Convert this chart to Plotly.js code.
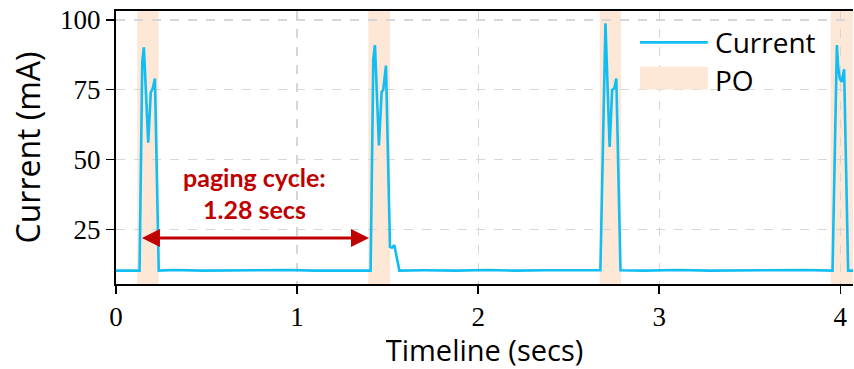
<!DOCTYPE html>
<html>
<head>
<meta charset="utf-8">
<script src="https://cdn.plot.ly/plotly-3.0.1.min.js"></script>
<style>html,body{margin:0;padding:0;background:#fff}#chart{width:854px;height:369px}</style>
</head>
<body>
<div id="chart"></div>
<script>
// Time (secs) and measured current (mA)
const timeSecs = [0, 0.06, 0.11, 0.130, 0.145, 0.154, 0.178, 0.192, 0.203, 0.215, 0.236,
  0.32, 0.48, 0.62, 0.80, 0.95, 1.10, 1.25, 1.406, 1.421, 1.430, 1.452, 1.467, 1.476, 1.491,
  1.513, 1.524, 1.537, 1.545, 1.565, 1.70, 1.88, 2.05, 2.20, 2.38, 2.55, 2.675, 2.703, 2.726,
  2.740, 2.752, 2.763, 2.786, 2.92, 3.10, 3.28, 3.45, 3.62, 3.80, 3.957, 3.981, 3.988, 3.997,
  4.007, 4.021, 4.043, 4.07];
const currentMA = [10.2, 10.3, 10.2, 10.2, 85, 90.2, 56, 74, 75.5, 79, 10.2,
  10.4, 10.2, 10.3, 10.2, 10.4, 10.2, 10.3, 10.2, 86, 91, 55, 74.2, 75, 83.6,
  18.7, 18.4, 19.3, 17, 10.2, 10.3, 10.2, 10.4, 10.2, 10.3, 10.2, 10.3, 98.8, 54.5,
  74.9, 75.5, 79, 10.3, 10.2, 10.4, 10.2, 10.3, 10.2, 10.4, 10.2, 91, 83.2, 79,
  77.8, 82.3, 10.2, 10.2];

// Paging occasions (PO) windows, secs
const poStart = [0.117, 1.393, 2.671, 3.947];
const poEnd   = [0.235, 1.513, 2.789, 4.10];

const xTicks = [0, 1, 2, 3, 4];
const yTicks = [25, 50, 75, 100];

// Paging cycle annotation
const cycleFrom = 0.135, cycleTo = 1.397, cycleLevel = 21.9;
const cycleLabel1 = 'paging cycle:';
const cycleLabel2 = '1.28 secs';

const legendNames = ['Current', 'PO'];

const sans = 'Open Sans, DejaVu Sans, sans-serif';
const serif = 'Liberation Serif, DejaVu Serif, serif';
const red = '#c00000';
const blue = '#12bdf2';
const peach = '#fde8d7';

const shapes = poStart.map((s, i) => ({
  type: 'rect', xref: 'x', yref: 'paper', x0: s, x1: poEnd[i], y0: 0, y1: 1,
  fillcolor: peach, line: {width: 0}, layer: 'below'
}));
// legend swatches
shapes.push({type: 'line', xref: 'paper', yref: 'paper', x0: 0.711, x1: 0.803, y0: 0.885, y1: 0.885,
  line: {color: blue, width: 2.6}});
shapes.push({type: 'rect', xref: 'paper', yref: 'paper', x0: 0.711, x1: 0.803, y0: 0.712, y1: 0.796,
  fillcolor: peach, line: {width: 0}, layer: 'above'});

const traces = [{
  x: timeSecs, y: currentMA, type: 'scatter', mode: 'lines', name: legendNames[0],
  line: {color: blue, width: 2.6}
}];

const layout = {
  width: 854, height: 369,
  margin: {l: 116, r: 1, t: 11, b: 85},
  paper_bgcolor: '#fff', plot_bgcolor: '#fff',
  showlegend: false,
  xaxis: {
    range: [0, 4.07], tickvals: xTicks, ticktext: xTicks.map(String),
    ticks: 'outside', ticklen: 8, tickwidth: 1.5, tickcolor: '#000',
    showline: true, linecolor: '#000', linewidth: 2, mirror: true,
    showgrid: true, gridcolor: '#d6d6d6', griddash: 'dash', gridwidth: 1.2,
    zeroline: false,
    tickfont: {family: serif, size: 27, color: '#000'},
    title: {text: 'Timeline (secs)', font: {family: sans, size: 29, color: '#000'}, standoff: 6}
  },
  yaxis: {
    range: [5.4, 103.2], tickvals: yTicks, ticktext: yTicks.map(String),
    ticks: 'outside', ticklen: 8, tickwidth: 1.5, tickcolor: '#000',
    showline: true, linecolor: '#000', linewidth: 2,
    showgrid: true, gridcolor: '#d6d6d6', griddash: 'dash', gridwidth: 1.2,
    zeroline: false,
    tickfont: {family: serif, size: 27, color: '#000'},
    title: {text: 'Current (mA)', font: {family: sans, size: 32, color: '#000'}, standoff: 10}
  },
  shapes: shapes,
  annotations: [
    {x: cycleTo, y: cycleLevel, ax: cycleFrom, ay: cycleLevel, xref: 'x', yref: 'y', axref: 'x', ayref: 'y',
      text: '', showarrow: true, arrowhead: 2, startarrowhead: 2, arrowside: 'end+start',
      arrowsize: 1.2, startarrowsize: 1.2, arrowwidth: 3, arrowcolor: red},
    {x: (cycleFrom + cycleTo) / 2, y: 43.8, xref: 'x', yref: 'y', text: cycleLabel1, showarrow: false,
      font: {family: 'Lato, Open Sans, sans-serif', size: 25, color: red, weight: 'bold'}},
    {x: (cycleFrom + cycleTo) / 2, y: 32.3, xref: 'x', yref: 'y', text: cycleLabel2, showarrow: false,
      font: {family: 'Lato, Open Sans, sans-serif', size: 25, color: red, weight: 'bold'}},
    {x: 0.810, y: 0.888, xref: 'paper', yref: 'paper', xanchor: 'left', yanchor: 'middle',
      text: legendNames[0], showarrow: false, font: {family: sans, size: 28, color: '#000'}},
    {x: 0.810, y: 0.748, xref: 'paper', yref: 'paper', xanchor: 'left', yanchor: 'middle',
      text: legendNames[1], showarrow: false, font: {family: sans, size: 28, color: '#000'}}
  ]
};

Plotly.newPlot('chart', traces, layout, {displayModeBar: false, staticPlot: true});
</script>
</body>
</html>
